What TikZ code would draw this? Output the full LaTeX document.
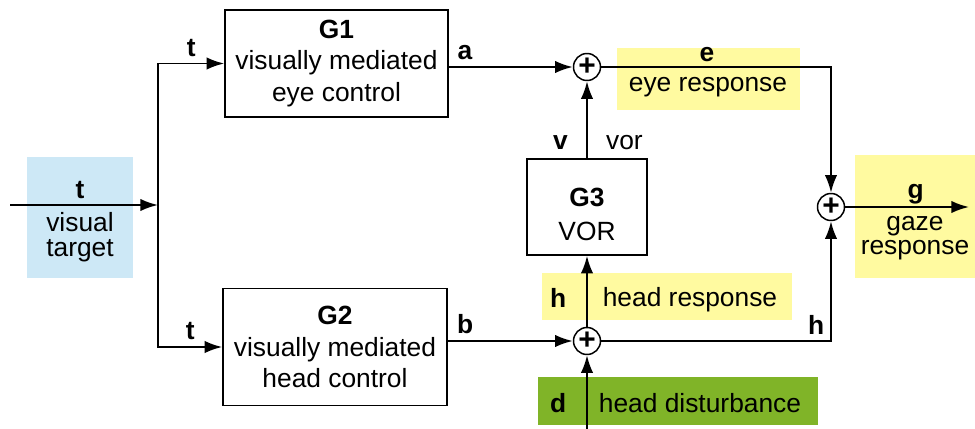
\documentclass[tikz,border=0pt]{standalone}
\usepackage{fontspec}
\setmainfont{Liberation Sans}
\usetikzlibrary{positioning,arrows.meta}
\definecolor{targetblue}{RGB}{205,232,246}
\definecolor{respyellow}{RGB}{255,250,160}
\definecolor{distgreen}{RGB}{128,180,40}

\begin{document}
\begin{tikzpicture}[x=0.02cm, y=-0.02cm, >={Latex[length=10pt,width=7pt]}, line width=1.1pt,
    font=\fontsize{15}{18}\selectfont,
    block/.style={draw, line width=0.85pt, align=center, inner sep=0pt},
    sum/.style={draw, circle, line width=0.85pt, minimum size=0.54cm, inner sep=0pt, font=\fontsize{17}{17}\selectfont\bfseries},
    hl/.style={draw=none, inner sep=0pt},
    sig/.style={font=\fontsize{15}{18}\selectfont\bfseries},
    txt/.style={align=center, font=\fontsize{15}{14}\selectfont}]
    \useasboundingbox (0,0) rectangle (975,429);

    \node (targetbg) at (80,217.5) [hl, fill=targetblue, minimum width=2.12cm, minimum height=2.42cm] {};
    \node (eyebg) at (708.5,79) [hl, fill=respyellow, minimum width=3.66cm, minimum height=1.24cm] {};
    \node (headbg) at (667,296.5) [hl, fill=respyellow, minimum width=5cm, minimum height=0.94cm] {};
    \node (distbg) at (678,401) [hl, fill=distgreen, minimum width=5.6cm, minimum height=0.96cm] {};
    \node (gazebg) at (915,216.5) [hl, fill=respyellow, minimum width=2.4cm, minimum height=2.46cm] {};

    \node (G1) at (336.5,63.5) [block, minimum width=4.46cm, minimum height=2.14cm] {\textbf{G1}\\visually mediated\\eye control};
    \node (G2) at (335,347) [block, minimum width=4.48cm, minimum height=2.34cm] {\textbf{G2}\\visually mediated\\head control};
    \node (G3) at (587,207) [block, minimum width=2.4cm, minimum height=1.92cm] {\textbf{G3}\rule{0pt}{19pt}\\[1pt]VOR};

    \node (s1) at (587,67) [sum] {+};
    \node (s2) at (587,341) [sum] {+};
    \node (s3) at (831,207) [sum] {+};

    \coordinate (in) at (10,205);
    \coordinate (split) at (158,205);
    \coordinate (dist) at (587,429);
    \coordinate (out) at (969,207);

    \node (t0) at (80,190) [sig] {t};
    \node (target) at (80,237) [txt] {visual\\target};
    \node (eyeresp) at (708,87) {eye response};
    \node (headresp) at (690,300) {head response};
    \node (headdist) at (700,403) {head disturbance};
    \node (gazeresp) at (915,238) [txt] {gaze\\response};

    \draw[->] (in) -- (split);
    \draw[->] (split) |- node[above, pos=0.75, sig] {t} (G1);
    \draw[->] (split) |- node[above, pos=0.75, sig] {t} (G2);
    \draw[->] (G1.east |- s1) -- node[above, pos=0.13, sig] {a} (s1);
    \draw[->] (G2.east |- s2) -- node[above, pos=0.14, sig] {b} (s2);
    \draw[->] (G3) -- node[left=7pt, pos=0.2, sig] {v} node[right=7pt, pos=0.2] {vor} (s1);
    \draw[->] (s2) -- node[left=8pt, pos=0.4, sig] {h} (G3);
    \draw[->] (dist) -- node[left=8pt, pos=0.35, sig] {d} (s2);
    \draw[->] (s1) -| node[above=-1pt, pos=0.23, sig] {e} (s3);
    \draw[->] (s2) -| node[above left, pos=0.5, sig] {h} (s3);
    \draw[->] (s3) -- node[above=-2pt, pos=0.57, sig] {g} (out);
\end{tikzpicture}
\end{document}
